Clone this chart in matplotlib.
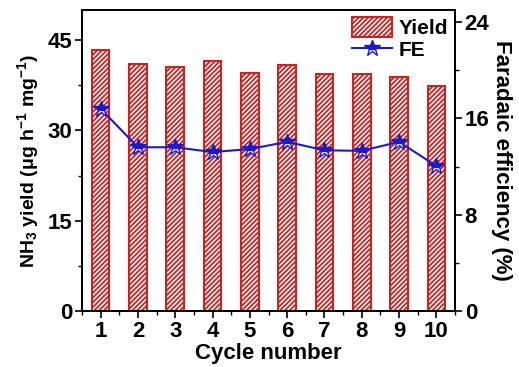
import matplotlib.pyplot as plt
import numpy as np
from matplotlib.ticker import MultipleLocator

plt.rcParams['font.family'] = ['Liberation Sans', 'DejaVu Sans']
plt.rcParams['font.weight'] = 'bold'
plt.rcParams['mathtext.fontset'] = 'custom'
plt.rcParams['mathtext.rm'] = 'Liberation Sans:bold'
plt.rcParams['mathtext.bf'] = 'Liberation Sans:bold'
plt.rcParams['mathtext.default'] = 'bf'
plt.rcParams['hatch.color'] = '#cc2222'
plt.rcParams['hatch.linewidth'] = 1.3

# Data
cycles = np.arange(1, 11)
yield_vals = [43.4, 41.0, 40.6, 41.5, 39.6, 40.9, 39.4, 39.4, 38.8, 37.3]
fe_vals = [16.8, 13.6, 13.6, 13.2, 13.45, 14.05, 13.35, 13.3, 14.05, 12.05]

fig = plt.figure(figsize=(5.19, 3.67), dpi=100)
ax = fig.add_axes([82 / 519, 1 - 311 / 367, 373 / 519, 301 / 367])
ax2 = ax.twinx()

bars = ax.bar(cycles, yield_vals, width=0.47, color='white', edgecolor='#cc2222',
              linewidth=1.5, hatch='///////', label='Yield')
line, = ax2.plot(cycles, fe_vals, color='#1a1acc', linewidth=1.5, marker='*',
                 markersize=12, markeredgecolor='#1a1acc', markerfacecolor='#1a1acc',
                 fillstyle='top', markerfacecoloralt='white', markeredgewidth=1.0,
                 label='FE')

ax.set_xlim(0.5, 10.5)
ax.set_ylim(0, 50)
ax2.set_ylim(0, 25)
ax.set_xticks(cycles)
ax.xaxis.set_minor_locator(MultipleLocator(0.5))
ax.set_yticks([0, 15, 30, 45])
ax.yaxis.set_minor_locator(MultipleLocator(7.5))
ax2.set_yticks([0, 8, 16, 24])
ax2.yaxis.set_minor_locator(MultipleLocator(4))

for a in (ax, ax2):
    a.tick_params(which='major', direction='out', length=5, width=1.2, labelsize=16, pad=2)
    a.tick_params(which='minor', direction='out', length=3, width=1.0)
    for s in a.spines.values():
        s.set_linewidth(1.3)

ax.set_xlabel('Cycle number', fontsize=16, fontweight='bold', labelpad=1)
ax.set_ylabel(r'NH$_3$ yield (μg h$^{-1}$ mg$^{-1}$)',
              fontsize=14, fontweight='bold', labelpad=5)
ax2.set_ylabel('Faradaic efficiency (%)', fontsize=16, fontweight='bold',
               rotation=-90, labelpad=16)

ax.legend([bars, line], ['Yield', 'FE'], loc='upper right', frameon=False,
          fontsize=15, handlelength=1.9, handleheight=1.1, borderaxespad=0.15,
          labelspacing=0.05, handletextpad=0.3, borderpad=0.2)

fig.savefig('out.png', dpi=100)
